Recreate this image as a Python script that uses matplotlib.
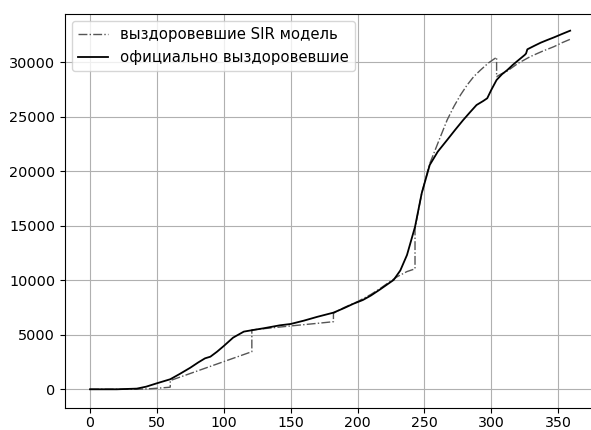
import numpy as np
from matplotlib import pyplot as plt

# days / values
official_days = [0, 20, 35, 42, 50, 60, 67, 75, 81, 86, 90, 95, 100, 107, 115, 122,
                 130, 142, 150, 160, 170, 182, 190, 197, 204, 210, 217, 222, 227,
                 232, 237, 243, 248, 254, 260, 267, 273, 279, 284, 289, 294, 297,
                 300, 304, 308, 312, 316, 319, 325, 326, 327, 332, 337, 342, 347,
                 353, 359]
official_recovered = [0, 0, 60, 240, 550, 920, 1400, 1980, 2470, 2840, 2990, 3450,
                      3970, 4740, 5290, 5440, 5600, 5870, 5990, 6300, 6650, 7030,
                      7450, 7850, 8190, 8600, 9170, 9600, 10030, 10900, 12320,
                      14900, 17980, 20580, 21800, 22870, 23800, 24700, 25400,
                      26080, 26450, 26700, 27460, 28380, 28900, 29290, 29750,
                      30060, 30670, 30800, 31190, 31500, 31800, 32050, 32290,
                      32600, 32900]

sir_days = [0, 35, 45, 59, 60, 60, 121, 121, 130, 150, 170, 182, 182, 190, 200,
            210, 217, 224, 230, 237, 243, 243, 248, 254, 262, 267, 272, 277, 282,
            287, 292, 298, 304, 304, 307, 312, 320, 329, 338, 347, 353, 359]
sir_recovered = [0, 0, 50, 180, 200, 800, 3450, 5440, 5560, 5810, 6050, 6200,
                 6970, 7500, 8040, 8700, 9250, 9860, 10350, 10800, 11050, 14770,
                 17980, 20700, 23170, 24700, 25930, 27000, 27920, 28700, 29290,
                 29950, 30460, 28680, 28900, 29200, 29900, 30510, 31000, 31440,
                 31800, 32110]


def main():
    """ Main function """
    plt.rcParams['font.size'] = 10.7
    fig = plt.figure(figsize=(5.91, 4.30), dpi=100)
    # right edge of the axes lies outside the picture, as in the cropped original
    ax = fig.add_axes([65 / 591, 22.3 / 430, (625 - 65) / 591, 393.7 / 430])

    ax.plot(sir_days, sir_recovered, linestyle='-.', color='#555555', lw=1.0,
            label='выздоровевшие SIR модель')
    ax.plot(official_days, official_recovered, color='k', lw=1.3,
            label='официально выздоровевшие')

    ax.set_xlim(-18.7, 400)
    ax.set_ylim(-1690, 34430)
    ax.set_xticks(np.arange(0, 351, 50))
    ax.set_yticks(np.arange(0, 30001, 5000))
    ax.tick_params(axis='x', labelsize=10.2, pad=2.5)
    ax.tick_params(axis='y', labelsize=10.4)
    ax.grid(True)
    ax.legend(loc='upper left')

    fig.savefig('out.png', dpi=100)


if __name__ == "__main__":
    main()
